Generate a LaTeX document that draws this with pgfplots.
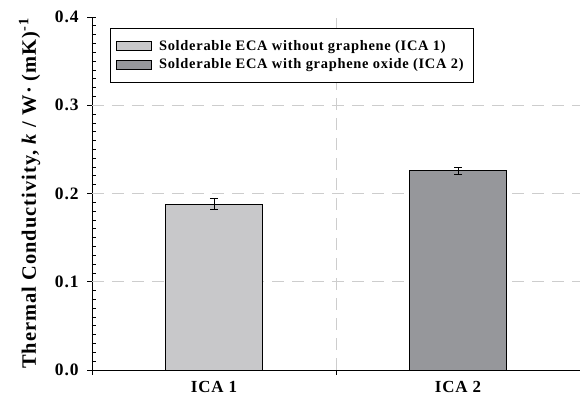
\documentclass[border=0pt]{standalone}
\usepackage{pgfplots}
\pgfplotsset{compat=1.18}
\usepackage{fontspec}
\setmainfont{Liberation Serif}[LetterSpace=5]
\definecolor{barA}{RGB}{200,200,202}
\definecolor{barB}{RGB}{150,151,155}
\definecolor{gridc}{RGB}{205,205,205}
\begin{document}
\begin{tikzpicture}
\begin{axis}[
  scale only axis, width=488bp, height=353bp,
  xmin=-0.5, xmax=1.5, ymin=0, ymax=0.4,
  axis lines=left, axis line style={-, line width=0.9pt},
  xtick={0,1}, xticklabels={ICA 1, ICA 2},
  x tick label style={font=\fontsize{17}{17}\selectfont\bfseries, yshift=-8bp},
  major x tick style={line width=0pt, draw opacity=0},
  ytick={0,0.1,0.2,0.3,0.4},
  yticklabel style={font=\fontsize{17.5}{17.5}\selectfont\bfseries, xshift=-10bp},
  yticklabel={\pgfmathprintnumber[fixed,fixed zerofill,precision=1]{\tick}},
  /pgf/number format/assume math mode=true,
  minor y tick num=9,
  tick align=inside, major tick length=4bp, minor tick length=4bp,
  every tick/.style={black, line width=0.8pt},
  ylabel={\fontsize{20.5}{20.5}\selectfont\bfseries Thermal Conductivity, \textit{k} / W· (mK)\textsuperscript{-1}},
  ylabel style={at={(rel axis cs:-0.128,0.5)}, anchor=center},
  legend style={at={(0.037,0.969)}, anchor=north west, draw=black, line width=0.8pt,
    font=\fontsize{14.5}{14.5}\selectfont\bfseries, inner xsep=6bp, inner ysep=11bp, row sep=5bp,
    nodes={inner ysep=1bp}, cells={anchor=west},
    /tikz/every odd column/.append style={column sep=5bp}},
  legend image code/.code={\draw[#1, draw=black, line width=0.6pt] (0bp,-4.5bp) rectangle (35bp,4.5bp);},
  clip=false,
]
\draw[gridc, dash pattern=on 12bp off 8bp, line width=0.9pt] (axis cs:-0.5,0.1) -- (axis cs:1.5,0.1);
\draw[gridc, dash pattern=on 12bp off 8bp, line width=0.9pt] (axis cs:-0.5,0.2) -- (axis cs:1.5,0.2);
\draw[gridc, dash pattern=on 12bp off 8bp, line width=0.9pt] (axis cs:-0.5,0.3) -- (axis cs:1.5,0.3);
\draw[gridc, dash pattern=on 12bp off 8bp, line width=0.9pt] (axis cs:0.5,0) -- (axis cs:0.5,0.4);
\draw[black, line width=0.8pt] (axis cs:0.5,0) -- ([yshift=-5bp]axis cs:0.5,0);
\draw[black, line width=0.8pt] (axis cs:-0.5,0) -- ([yshift=-5bp]axis cs:-0.5,0);
\draw[black, line width=0.8pt] (axis cs:-0.5,0) -- ([xshift=-5bp]axis cs:-0.5,0);
\draw[black, line width=0.8pt] (axis cs:-0.5,0.1) -- ([xshift=-5bp]axis cs:-0.5,0.1);
\draw[black, line width=0.8pt] (axis cs:-0.5,0.2) -- ([xshift=-5bp]axis cs:-0.5,0.2);
\draw[black, line width=0.8pt] (axis cs:-0.5,0.3) -- ([xshift=-5bp]axis cs:-0.5,0.3);
\draw[black, line width=0.8pt] (axis cs:-0.5,0.4) -- ([xshift=-5bp]axis cs:-0.5,0.4);
\addplot[ybar, bar width=0.4, bar shift=0pt, fill=barA, draw=black, line width=0.8pt,
  error bars/.cd, y dir=both, y explicit, error bar style={black, line width=0.8pt}, error mark options={rotate=90, mark size=4bp, line width=0.8pt}]
  coordinates {(0,0.188) +- (0,0.006)};
\addlegendentry{\makebox[306bp][l]{Solderable ECA without graphene (ICA 1)}}
\addplot[ybar, bar width=0.4, bar shift=0pt, fill=barB, draw=black, line width=0.8pt,
  error bars/.cd, y dir=both, y explicit, error bar style={black, line width=0.8pt}, error mark options={rotate=90, mark size=4bp, line width=0.8pt}]
  coordinates {(1,0.226) +- (0,0.004)};
\addlegendentry{\makebox[306bp][l]{Solderable ECA with graphene oxide (ICA 2)}}
\end{axis}
\pgfresetboundingbox
\path[use as bounding box] ([xshift=-92bp,yshift=-26bp]current axis.south west) rectangle ([yshift=17bp]current axis.north east);
\end{tikzpicture}
\end{document}
